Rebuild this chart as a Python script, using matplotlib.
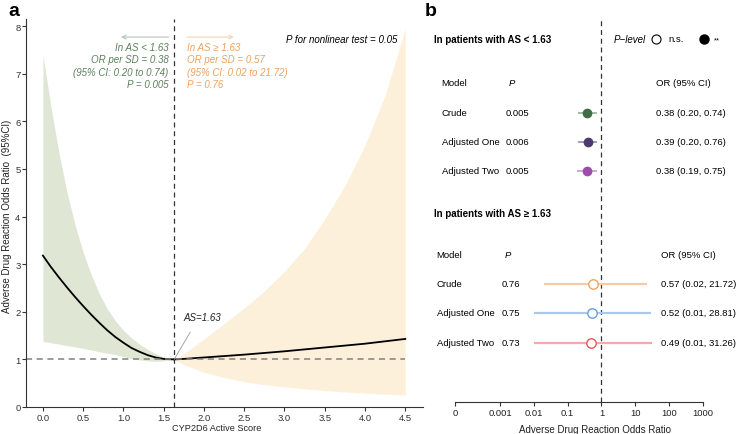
import matplotlib
matplotlib.use("Agg")
import matplotlib.pyplot as plt
import numpy as np

plt.rcParams['font.family'] = ['Liberation Sans', 'DejaVu Sans']
plt.rcParams['font.size'] = 7

# ---- panel a data ----
knot = 1.63
x_left = [0.0, 0.1, 0.2, 0.3, 0.4, 0.5, 0.6, 0.7, 0.8, 0.9, 1.0, 1.1, 1.2, 1.3, 1.4, 1.5, 1.63]
or_left = [3.18, 2.94, 2.72, 2.51, 2.31, 2.12, 1.94, 1.77, 1.61, 1.47, 1.35, 1.24, 1.16, 1.09, 1.04, 1.01, 1.0]
lo_left = [1.38, 1.35, 1.32, 1.29, 1.26, 1.23, 1.20, 1.16, 1.13, 1.10, 1.06, 1.02, 0.99, 0.97, 0.96, 0.97, 1.0]
hi_left = [7.40, 6.30, 5.33, 4.50, 3.82, 3.25, 2.78, 2.38, 2.06, 1.81, 1.61, 1.45, 1.32, 1.21, 1.12, 1.05, 1.0]

x_right = [1.63, 1.75, 2.0, 2.25, 2.5, 2.75, 3.0, 3.25, 3.5, 3.75, 4.0, 4.25, 4.5]
or_right = [1.0, 1.01, 1.04, 1.07, 1.10, 1.135, 1.17, 1.21, 1.25, 1.29, 1.33, 1.38, 1.43]
lo_right = [1.0, 0.89, 0.73, 0.62, 0.53, 0.47, 0.42, 0.38, 0.345, 0.315, 0.29, 0.27, 0.25]
hi_right = [1.0, 1.12, 1.43, 1.75, 2.08, 2.44, 2.85, 3.33, 3.95, 4.65, 5.50, 6.55, 7.95]

# ---- panel b data ----
models = ['Crude', 'Adjusted One', 'Adjusted Two']
p_low = ['0.005', '0.006', '0.005']
or_low = [0.38, 0.39, 0.38]
lcl_low = [0.20, 0.20, 0.19]
ucl_low = [0.74, 0.76, 0.75]
p_high = ['0.76', '0.75', '0.73']
or_high = [0.57, 0.52, 0.49]
lcl_high = [0.02, 0.01, 0.01]
ucl_high = [21.72, 28.81, 31.26]
col_low = ['#3f6e47', '#4c3b6e', '#9c4dab']
line_low = ['#9bb79f', '#9d92b5', '#cf9fd8']
col_high = ['#efa566', '#6b9fd6', '#e5585a']
line_high = ['#f5cba6', '#a9c8ec', '#f5a9aa']
xticks_b = [-4.33, -3, -2, -1, 0, 1, 2, 3]
xticklabels_b = ['0', '0.001', '0.01', '0.1', '1', '10', '100', '1000']

W, H = 738, 435
fig = plt.figure(figsize=(W / 100, H / 100), dpi=100)

green_fill = '#dfe6d3'
orange_fill = '#fdf0da'
green_txt = '#5b805b'
orange_txt = '#eba261'
fs = 7

# ================= panel a =================
ax = fig.add_axes([26 / W, 1 - 408 / H, 397 / W, 388 / H])
ax.fill_between(x_left, lo_left, hi_left, color=green_fill, lw=0)
ax.fill_between(x_right, lo_right, hi_right, color=orange_fill, lw=0)
ax.plot(x_left, or_left, color='black', lw=1.3)
ax.plot(x_right, or_right, color='black', lw=1.3)
ax.plot([-0.21, 4.5], [1, 1], color='#808080', lw=1.1, ls=(0, (4, 3)))
ax.axvline(knot, color='#333333', lw=0.9, ls=(0, (4, 3)))
ax.set_xlim(-0.21, 4.72)
ax.set_ylim(0, 8.15)
ax.set_xticks(np.arange(0, 4.51, 0.5))
ax.set_xticklabels([f'{v:.1f}' for v in np.arange(0, 4.51, 0.5)])
ax.set_yticks(range(0, 9))
for s in ['top', 'right']:
    ax.spines[s].set_visible(False)
for s in ['left', 'bottom']:
    ax.spines[s].set_color('#333333')
    ax.spines[s].set_linewidth(0.8)
ax.tick_params(length=3, width=0.8, color='#333333', labelcolor='#333333', labelsize=6.8, pad=1)
ax.set_xlabel('CYP2D6 Active Score', fontsize=6.6, color='#222222')
ax.xaxis.set_label_coords(0.48, -0.042)
ax.set_ylabel('Adverse Drug Reaction Odds Ratio  (95%CI)', fontsize=7, color='#222222')
ax.yaxis.set_label_coords(-0.035, 0.495)

left_lines = ['In AS < 1.63', 'OR per SD = 0.38', '(95% CI: 0.20 to 0.74)', 'P = 0.005']
right_lines = ['In AS \u2265 1.63', 'OR per SD = 0.57', '(95% CI: 0.02 to 21.72)', 'P = 0.76']
ys = [7.56, 7.30, 7.04, 6.78]
for t, y in zip(left_lines, ys):
    ax.text(1.56, y, t, ha='right', va='center', style='italic', color=green_txt, fontsize=fs)
for t, y in zip(right_lines, ys):
    ax.text(1.79, y, t, ha='left', va='center', style='italic', color=orange_txt, fontsize=fs)
ax.annotate('', xy=(0.97, 7.77), xytext=(1.56, 7.77),
            arrowprops=dict(arrowstyle='->', color='#b7c5b3', lw=0.8, shrinkA=0, shrinkB=0))
ax.annotate('', xy=(2.37, 7.77), xytext=(1.79, 7.77),
            arrowprops=dict(arrowstyle='->', color='#f6d2b0', lw=0.8, shrinkA=0, shrinkB=0))
ax.text(4.40, 7.73, 'P for nonlinear test = 0.05', ha='right', va='center', style='italic',
        color='black', fontsize=fs)
ax.annotate('AS=1.63', xy=(knot, 1.0), xytext=(1.74, 1.89), ha='left', va='center',
            style='italic', fontsize=fs, color='#222222',
            arrowprops=dict(arrowstyle='-', color='#999999', lw=0.6, shrinkA=6, shrinkB=0,
                            relpos=(0.35, 0.0)))
fig.text(8 / W, 1 - 12 / H, 'a', fontsize=14, fontweight='bold', ha='left', va='center')

# ================= panel b =================
bx = fig.add_axes([455 / W, 1 - 403 / H, 248 / W, 383 / H])
bx.set_xlim(-4.33, 3.0)
bx.set_ylim(403, 20)
for s in ['top', 'right', 'left']:
    bx.spines[s].set_visible(False)
bx.spines['bottom'].set_color('#333333')
bx.spines['bottom'].set_linewidth(0.8)
bx.set_yticks([])
bx.set_xticks(xticks_b)
bx.set_xticklabels(xticklabels_b)
bx.tick_params(axis='x', length=3, width=0.8, color='#333333', labelcolor='#222222', labelsize=6.8, pad=1.5)
bx.set_xlabel('Adverse Drug Reaction Odds Ratio', fontsize=7, color='#222222')
bx.xaxis.set_label_coords((595 - 455) / 248, -0.057)
bx.axvline(0, color='#333333', lw=0.9, ls=(0, (4, 3)))

tx = lambda px: (px - 602) / 33.67
fb = 6.8

# top group
bx.text(tx(435), 40, 'In patients with AS < 1.63', fontweight='bold', va='center', ha='left', fontsize=7)
bx.text(tx(614), 40, 'P\u2212level', style='italic', va='center', ha='left', fontsize=7)
bx.plot([tx(656)], [40], 'o', ms=6.5, mfc='white', mec='black', mew=0.8, clip_on=False)
bx.text(tx(669), 40, 'n.s.', va='center', ha='left', fontsize=fb)
bx.plot([tx(704)], [40], 'o', ms=6.5, mfc='black', mec='black', clip_on=False)
bx.text(tx(714), 41, '**', va='center', ha='left', fontsize=5.5)

rows_low = [114, 143, 172]
bx.text(tx(443), 84, 'Model', va='center', ha='left', fontsize=fb)
bx.text(tx(510), 84, 'P', style='italic', va='center', ha='left', fontsize=fb)
bx.text(tx(656), 84, 'OR (95% CI)', va='center', ha='left', fontsize=fb)
for i, m in enumerate(models):
    y = rows_low[i]
    bx.text(tx(443), y, m, va='center', ha='left', fontsize=fb)
    bx.text(tx(507), y, p_low[i], va='center', ha='left', fontsize=fb)
    bx.text(tx(656), y, f'{or_low[i]:.2f} ({lcl_low[i]:.2f}, {ucl_low[i]:.2f})', va='center', ha='left', fontsize=fb)
    bx.plot(np.log10([lcl_low[i], ucl_low[i]]), [y, y], color=line_low[i], lw=1.3, solid_capstyle='butt')
    bx.plot(np.log10([or_low[i]]), [y], 'o', ms=6, color=col_low[i])

# bottom group
rows_high = [285, 314, 344]
bx.text(tx(435), 214, 'In patients with AS \u2265 1.63', fontweight='bold', va='center', ha='left', fontsize=7)
bx.text(tx(438), 255, 'Model', va='center', ha='left', fontsize=fb)
bx.text(tx(506), 255, 'P', style='italic', va='center', ha='left', fontsize=fb)
bx.text(tx(661), 255, 'OR (95% CI)', va='center', ha='left', fontsize=fb)
for i, m in enumerate(models):
    y = rows_high[i]
    bx.text(tx(438), y, m, va='center', ha='left', fontsize=fb)
    bx.text(tx(503), y, p_high[i], va='center', ha='left', fontsize=fb)
    bx.text(tx(661), y, f'{or_high[i]:.2f} ({lcl_high[i]:.2f}, {ucl_high[i]:.2f})', va='center', ha='left', fontsize=fb)
    bx.plot(np.log10([lcl_high[i], ucl_high[i]]), [y, y], color=line_high[i], lw=1.6, solid_capstyle='butt')
    bx.plot(np.log10([or_high[i]]), [y], 'o', ms=6.8, mfc='white', mec=col_high[i], mew=1.0)

fig.text(425 / W, 1 - 12 / H, 'b', fontsize=14, fontweight='bold', ha='left', va='center')

fig.savefig('out.png', dpi=100)
